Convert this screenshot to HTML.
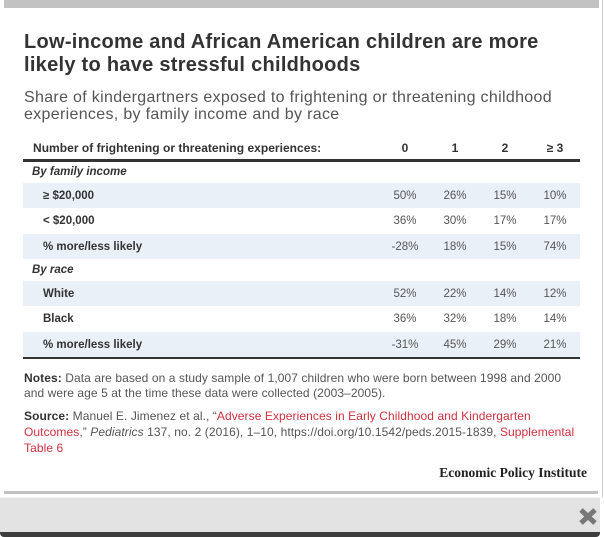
<!DOCTYPE html>
<html>
<head>
<meta charset="utf-8">
<style>
  html,body{margin:0;padding:0;background:#fff;}
  body{width:604px;height:537px;position:relative;overflow:hidden;font-family:"Liberation Sans",Arial,sans-serif;}
  .abs{position:absolute;white-space:nowrap;}
  .title{left:24px;font-size:20px;line-height:20px;font-weight:bold;color:#333;letter-spacing:0.28px;}
  .sub{left:24px;font-size:16px;line-height:16px;color:#555;letter-spacing:0.32px;}
  table{position:absolute;left:23px;top:137px;width:557px;border-collapse:collapse;table-layout:fixed;}
  td{padding:0;font-size:11.5px;white-space:nowrap;}
  td.num{text-align:center;color:#555;width:50px;}
  tr.hdr td{height:22px;line-height:22px;font-size:12px;font-weight:bold;color:#333;border-bottom:3px solid #333;letter-spacing:0.03px;}
  tr.hdr td.num{color:#333;}
  tr.grp td{font-style:italic;font-weight:bold;color:#333;padding-left:9px;}
  td.lab{padding-left:20px;font-weight:bold;color:#333;}
  tr.band td{background:#e9f0f8;}
  tr.last td{border-bottom:2px solid #333;}
  .notes{left:24px;font-size:12px;line-height:15px;color:#555;letter-spacing:0.08px;}
  .src{left:24px;font-size:12px;line-height:16px;color:#555;letter-spacing:0.08px;}
  .red{color:#d0303e;}
  b.k{color:#333;}
</style>
</head>
<body>
  <!-- top bar -->
  <div class="abs" style="left:4px;top:0;width:595px;height:8px;background:#c2c2c2;"></div>
  <!-- right vertical line -->
  <div class="abs" style="left:602px;top:0;width:1px;height:497px;background:#cbcbcb;"></div>

  <div class="abs title" style="top:32px;">Low-income and African American children are more</div>
  <div class="abs title" style="top:55px;">likely to have stressful childhoods</div>

  <div class="abs sub" style="top:89.5px;">Share of kindergartners exposed to frightening or threatening childhood</div>
  <div class="abs sub" style="top:106.5px;">experiences, by family income and by race</div>

  <table>
    <tr class="hdr"><td style="padding-left:10px;">Number of frightening or threatening experiences:</td><td class="num">0</td><td class="num">1</td><td class="num">2</td><td class="num">≥ 3</td></tr>
    <tr class="grp"><td style="height:21px;line-height:21px;">By family income</td><td class="num"></td><td class="num"></td><td class="num"></td><td class="num"></td></tr>
    <tr class="band"><td class="lab" style="height:25px;">≥ $20,000</td><td class="num">50%</td><td class="num">26%</td><td class="num">15%</td><td class="num">10%</td></tr>
    <tr><td class="lab" style="height:26px;">&lt; $20,000</td><td class="num">36%</td><td class="num">30%</td><td class="num">17%</td><td class="num">17%</td></tr>
    <tr class="band"><td class="lab" style="height:25px;">% more/less likely</td><td class="num">-28%</td><td class="num">18%</td><td class="num">15%</td><td class="num">74%</td></tr>
    <tr class="grp"><td style="height:22px;">By race</td><td class="num"></td><td class="num"></td><td class="num"></td><td class="num"></td></tr>
    <tr class="band"><td class="lab" style="height:25px;">White</td><td class="num">52%</td><td class="num">22%</td><td class="num">14%</td><td class="num">12%</td></tr>
    <tr><td class="lab" style="height:26px;">Black</td><td class="num">36%</td><td class="num">32%</td><td class="num">18%</td><td class="num">14%</td></tr>
    <tr class="band last"><td class="lab" style="height:25px;">% more/less likely</td><td class="num">-31%</td><td class="num">45%</td><td class="num">29%</td><td class="num">21%</td></tr>
  </table>

  <div class="abs notes" style="top:371px;"><b class="k">Notes:</b> Data are based on a study sample of 1,007 children who were born between 1998 and 2000</div>
  <div class="abs notes" style="top:386px;">and were age 5 at the time these data were collected (2003–2005).</div>

  <div class="abs src" style="top:408px;"><b class="k">Source:</b> Manuel E. Jimenez et al., “<span class="red">Adverse Experiences in Early Childhood and Kindergarten</span></div>
  <div class="abs src" style="top:424px;"><span class="red">Outcomes</span>,” <i>Pediatrics</i> 137, no. 2 (2016), 1–10, https://doi.org/10.1542/peds.2015-1839, <span class="red">Supplemental</span></div>
  <div class="abs src" style="top:440px;"><span class="red">Table 6</span></div>

  <div class="abs" style="right:17px;top:465.5px;font-family:'Liberation Serif',serif;font-weight:bold;font-size:13.5px;line-height:14px;color:#222;">Economic Policy Institute</div>

  <!-- bottom line -->
  <div class="abs" style="left:4px;top:491px;width:594px;height:3px;background:#c2c2c2;"></div>

  <!-- bottom panel -->
  <div class="abs" style="left:0;top:497px;width:600px;height:40px;background:#3d3d3d;border-radius:0 0 4px 4px;"></div>
  <div class="abs" style="left:0;top:497px;width:600px;height:35px;background:#e3e3e3;border-top:1px solid #f4f4f4;box-sizing:border-box;"></div>

  <svg class="abs" style="left:578px;top:507px;" width="20" height="19" viewBox="0 0 20 19">
    <line x1="3" y1="3" x2="17" y2="16" stroke="#787878" stroke-width="5" stroke-linecap="butt"/>
    <line x1="17" y1="3" x2="3" y2="16" stroke="#787878" stroke-width="5" stroke-linecap="butt"/>
  </svg>
</body>
</html>
